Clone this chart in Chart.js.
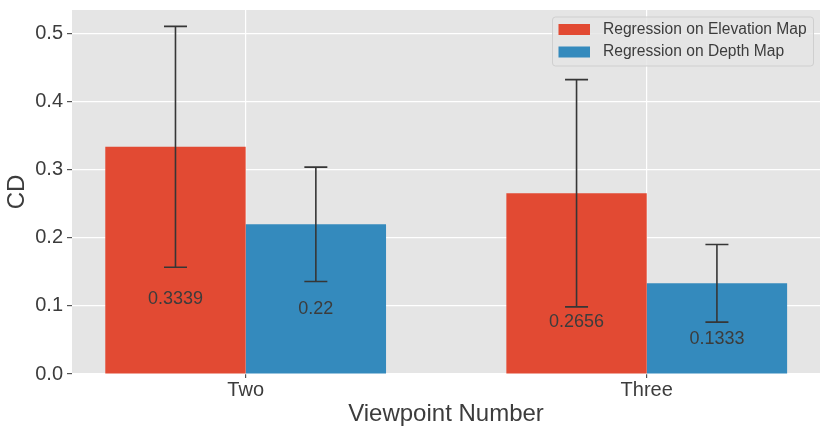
<!DOCTYPE html>
<html>
<head>
<meta charset="utf-8">
<script src="https://cdn.jsdelivr.net/npm/chart.js@4.4.1/dist/chart.umd.min.js"></script>
<style>
  html, body { margin: 0; padding: 0; background: #fff; }
</style>
</head>
<body>
<canvas id="chart_cd" width="830" height="436"></canvas>
<script>
// values
const categories = ['Two', 'Three'];
const seriesNames = ['Regression on Elevation Map', 'Regression on Depth Map'];
const elevationCD = [0.3339, 0.2656];
const depthCD = [0.22, 0.1333];
const elevationErr = [0.177, 0.167];
const depthErr = [0.084, 0.057];
// where the value text sits inside each bar (data units)
const elevationLabelAt = [0.110, 0.076];
const depthLabelAt = [0.095, 0.051];
const yTicks = [0.0, 0.1, 0.2, 0.3, 0.4, 0.5];

const COLORS = {
    red: '#E24A33',
    blue: '#348ABD',
    panel: '#E5E5E5',
    text: '#3c3c3c',
    err: '#363636',
};
const FONT = '"Liberation Sans", Arial, sans-serif';

const errors = [elevationErr, depthErr];
const labelAt = [elevationLabelAt, depthLabelAt];
const shown = [elevationCD, depthCD];

const panelBg = {
    id: 'panelBg',
    beforeDraw(chart) {
        const { ctx, chartArea: a } = chart;
        ctx.save();
        ctx.fillStyle = COLORS.panel;
        ctx.fillRect(a.left, a.top, a.right - a.left, a.bottom - a.top);
        ctx.restore();
    }
};

const extras = {
    id: 'extras',
    afterDatasetsDraw(chart) {
        const { ctx, scales: { y } } = chart;
        ctx.save();
        chart.data.datasets.forEach((ds, d) => {
            const meta = chart.getDatasetMeta(d);
            meta.data.forEach((bar, i) => {
                const v = shown[d][i];
                const e = errors[d][i];
                const yt = y.getPixelForValue(v + e);
                const yb = y.getPixelForValue(v - e);
                ctx.strokeStyle = COLORS.err;
                ctx.lineWidth = 1.6;
                ctx.beginPath();
                ctx.moveTo(bar.x, yt); ctx.lineTo(bar.x, yb);
                ctx.moveTo(bar.x - 11.5, yt); ctx.lineTo(bar.x + 11.5, yt);
                ctx.moveTo(bar.x - 11.5, yb); ctx.lineTo(bar.x + 11.5, yb);
                ctx.stroke();

                ctx.fillStyle = COLORS.text;
                ctx.font = '18px ' + FONT;
                ctx.textAlign = 'center';
                ctx.textBaseline = 'middle';
                ctx.fillText(String(v), bar.x, y.getPixelForValue(labelAt[d][i]));
            });
        });

        // legend box in the upper right corner
        const bx = 552.5, by = 17, bw = 261, bh = 49;
        ctx.fillStyle = 'rgba(229,229,229,0.8)';
        ctx.strokeStyle = '#cfcfcf';
        ctx.lineWidth = 1;
        ctx.beginPath();
        ctx.roundRect(bx, by, bw, bh, 3);
        ctx.fill();
        ctx.stroke();
        ctx.font = '15.6px ' + FONT;
        ctx.textAlign = 'left';
        ctx.textBaseline = 'middle';
        chart.data.datasets.forEach((ds, d) => {
            const cy = 29.5 + d * 22.5;
            ctx.fillStyle = ds.backgroundColor;
            ctx.fillRect(558.5, cy - 5.5, 31.5, 11);
            ctx.fillStyle = COLORS.text;
            ctx.fillText(ds.label, 603, cy);
        });
        ctx.restore();
    }
};

const data = {
    datasets: [
        {
            label: seriesNames[0],
            data: elevationCD.map((v, i) => ({ x: i, y: v })),
            backgroundColor: COLORS.red,
        },
        {
            label: seriesNames[1],
            data: depthCD.map((v, i) => ({ x: i, y: v })),
            backgroundColor: COLORS.blue,
        },
    ]
};

const config = {
    type: 'bar',
    data: data,
    options: {
        responsive: false,
        animation: false,
        devicePixelRatio: 1,
        layout: { padding: { top: 10, right: 10, left: 0, bottom: 0 } },
        datasets: {
            bar: {
                barPercentage: 1,
                categoryPercentage: 0.7,
                borderWidth: 0,
            }
        },
        plugins: {
            legend: { display: false },
            tooltip: { enabled: false },
        },
        scales: {
            x: {
                type: 'linear',
                min: -0.433,
                max: 1.432,
                offset: false,
                afterBuildTicks: (s) => { s.ticks = categories.map((c, i) => ({ value: i })); },
                afterFit: (s) => { s.height = 62; s.paddingLeft = 0; s.paddingRight = 0; },
                ticks: {
                    autoSkip: false,
                    maxRotation: 0,
                    padding: 0,
                    color: COLORS.text,
                    font: { family: FONT, size: 20 },
                    callback: (v) => categories[Math.round(v)],
                },
                grid: { offset: false, color: '#ffffff', lineWidth: 1.2, tickColor: '#555555', tickLength: 4 },
                border: { display: false },
                title: {
                    display: true,
                    text: 'Viewpoint Number',
                    color: COLORS.text,
                    font: { family: FONT, size: 24 },
                    padding: { top: 0, bottom: 7 },
                },
            },
            y: {
                min: 0,
                max: 0.535,
                afterBuildTicks: (s) => { s.ticks = yTicks.map((v) => ({ value: v })); },
                afterFit: (s) => { s.width = 72; s.paddingTop = 0; s.paddingBottom = 0; },
                ticks: {
                    padding: 4,
                    color: COLORS.text,
                    font: { family: FONT, size: 20 },
                    callback: (v) => v.toFixed(1),
                },
                grid: { color: '#ffffff', lineWidth: 1.2, tickColor: '#555555', tickLength: 5 },
                border: { display: false },
                title: {
                    display: true,
                    text: 'CD',
                    color: COLORS.text,
                    font: { family: FONT, size: 24 },
                    padding: { top: 3, bottom: 0 },
                },
            }
        }
    },
    plugins: [panelBg, extras]
};

new Chart(document.getElementById('chart_cd'), config);
</script>
</body>
</html>
